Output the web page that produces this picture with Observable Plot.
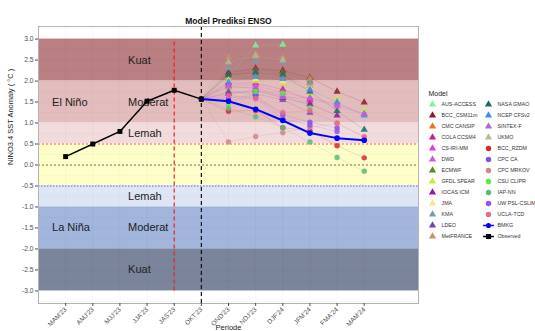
<!DOCTYPE html>
<html><head><meta charset="utf-8">
<script src="https://cdn.jsdelivr.net/npm/d3@7"></script>
<script src="https://cdn.jsdelivr.net/npm/@observablehq/plot@0.6"></script>
<style>body{margin:0;background:#fff;} #wrap{position:relative;width:535px;height:331px;overflow:hidden;}</style>
</head><body><div id="wrap"></div>
<script>
const periods = ["MAM'23","AMJ'23","MJJ'23","JJA'23","JAS'23","OKT'23","OND'23","NDJ'23","DJF'24","JFM'24","FMA'24","MAM'24"];
const observed = [0.2, 0.5, 0.8, 1.52, 1.78, 1.57];          // MAM'23 .. OKT'23
const bmkg = [1.57, 1.52, 1.33, 1.06, 0.76, 0.64, 0.59];      // OKT'23 .. MAM'24

const modelNames = ["AUS-ACCESS","BCC_CSM11m","CMC CANSIP","COLA CCSM4","CS-IRI-MM","DWD","ECMWF","GFDL SPEAR","IOCAS ICM","JMA","KMA","LDEO","MetFRANCE",
  "NASA GMAO","NCEP CFSv2","SINTEX-F","UKMO","BCC_RZDM","CPC CA","CPC MRKOV","CSU CLIPR","IAP-NN","UW PSL-CSLIM","UCLA-TCD"];
const modelShapes = ["triangle","triangle","triangle","triangle","triangle","triangle","triangle","triangle","triangle","triangle","triangle","triangle","triangle",
  "triangle","triangle","triangle","triangle","circle","circle","circle","circle","circle","circle","circle"];
const modelColors = ["#7ff29a","#8b1c2c","#e8761c","#cc1f8a","#dd3fd8","#cc5ccc","#5e8a23","#c4ec3c","#8e1a9c","#fce38a","#7a9ca8","#7245b5","#c0966a",
  "#1b6b63","#3a8ff0","#b764d6","#b7ba94","#e0242c","#7a52ef","#cf8888","#52ee44","#59bb7a","#9a4fe8","#ea6b8a"];
// forecasts for OND'23, NDJ'23, DJF'24, JFM'24, FMA'24, MAM'24
const forecasts = [
  [2.10, 2.85, 2.87, null, null, null],
  [2.20, 2.30, 2.25, 2.08, 1.75, 1.49],
  [2.05, 2.12, 2.10, 1.88, null, null],
  [1.95, 1.95, 1.80, 1.55, null, null],
  [1.90, 1.90, 1.72, 1.60, 1.45, 1.22],
  [1.85, 1.85, 1.65, 1.50, null, null],
  [2.12, 2.25, 2.20, 2.00, null, null],
  [1.80, 2.00, 1.95, 1.70, 1.58, 1.32],
  [1.70, 1.78, 1.60, 1.45, 1.18, null],
  [2.02, 2.05, 2.00, 1.85, null, null],
  [2.31, 2.47, 2.44, 1.95, null, null],
  [1.75, 1.70, 1.55, 1.25, null, null],
  [2.57, 2.65, 2.56, 2.06, null, null],
  [2.15, 2.20, 2.15, 1.75, 1.29, 0.84],
  [1.98, 2.10, 2.05, 1.80, 1.50, 1.18],
  [1.88, 1.82, 1.62, 1.60, 1.40, 1.22],
  [2.45, 2.60, 2.50, null, null, null],
  [1.28, 1.30, 0.89, 0.82, 0.46, 0.17],
  [1.60, 1.65, 1.20, 1.02, 0.88, null],
  [0.55, 0.68, 0.77, 0.90, 0.99, 0.67],
  [1.45, 1.75, 1.71, 1.36, null, null],
  [1.35, 1.15, 0.89, 0.55, 0.18, -0.15],
  [1.55, 1.60, 1.10, 0.95, 0.80, null],
  [1.65, 1.58, 1.25, 1.30, 1.00, 0.67]
];

const bandFrom = [2, 1, 0.5, -0.5, -1, -2, -3];
const bandTo   = [3, 2, 1, 0.5, -0.5, -1, -2];
const bandColors = ["#b97f83","#e3bcbe","#f1dbdc","#fefec8","#dee5f4","#a1b5dd","#7a849b"];
const levelText = ["Kuat","Moderat","Lemah","Lemah","Moderat","Kuat"];
const levelY = [2.5, 1.5, 0.75, -0.75, -1.5, -2.5];
const phaseText = ["El Niño","La Niña"];
const phaseY = [1.5, -1.5];
const yTicks = d3.range(-3, 3.01, 0.5);

const bands = bandFrom.map((lo, i) => ({lo, hi: bandTo[i], color: bandColors[i]}));
const fcRows = [], fcLines = [];
modelNames.forEach((name, m) => {
  fcLines.push({model: name, x: 6, y: observed[5], color: modelColors[m]});
  forecasts[m].forEach((v, j) => {
    if (v == null) return;
    const row = {model: name, x: 7 + j, y: v, color: modelColors[m], shape: modelShapes[m]};
    fcRows.push(row); fcLines.push(row);
  });
});
const obsRows = observed.map((v, i) => ({x: i + 1, y: v}));
const bmkgRows = bmkg.map((v, i) => ({x: i + 6, y: v}));
const font = "Liberation Sans, Arial, Helvetica, sans-serif";

const chart = Plot.plot({
  width: 535, height: 331,
  marginTop: 26, marginBottom: 28, marginLeft: 38, marginRight: 117,
  style: {fontFamily: font, background: "white", color: "#4d4d4d"},
  x: {domain: [0, 14]},
  y: {domain: [-3.3, 3.3]},
  marks: [
    Plot.rect(bands, {x1: 0, x2: 14, y1: "lo", y2: "hi", fill: "color"}),
    Plot.ruleY(d3.range(-3.25, 3.3, 0.25), {stroke: "#000", strokeOpacity: 0.05, strokeWidth: 0.5}),
    Plot.ruleX(d3.range(1, 13), {stroke: "#000", strokeOpacity: 0.06, strokeWidth: 0.5}),
    Plot.ruleY([0.5], {stroke: "#ff2020", strokeDasharray: "2,2", strokeWidth: 0.7}),
    Plot.ruleY([0], {stroke: "#333", strokeDasharray: "2,2", strokeWidth: 0.7}),
    Plot.ruleY([-0.5], {stroke: "#8c8cf5", strokeDasharray: "1.5,1.5", strokeWidth: 1.3}),
    Plot.text(levelText, {x: 3.3, y: (d, i) => levelY[i], text: d => d, textAnchor: "start", fontSize: 11, fill: "#222"}),
    Plot.text(phaseText, {x: 0.5, y: (d, i) => phaseY[i], text: d => d, textAnchor: "start", fontSize: 11, fill: "#222"}),
    Plot.ruleX([5], {y1: -3, y2: 3, stroke: "#ff1a1a", strokeDasharray: "4,3", strokeWidth: 1.2}),
    Plot.line(fcLines, {x: "x", y: "y", z: "model", stroke: "color", strokeWidth: 0.5, strokeOpacity: 0.35}),
    Plot.dot(fcRows, {x: "x", y: "y", fill: "color", symbol: "shape", r: 2.7, fillOpacity: 0.85}),
    Plot.line(bmkgRows, {x: "x", y: "y", stroke: "#0000ff", strokeWidth: 2}),
    Plot.dot(bmkgRows, {x: "x", y: "y", fill: "#0000ff", r: 2.8}),
    Plot.line(obsRows, {x: "x", y: "y", stroke: "#000", strokeWidth: 1.5}),
    Plot.dot(obsRows, {x: "x", y: "y", fill: "#000", symbol: "square", r: 2.8}),
    Plot.ruleX([6], {stroke: "#111", strokeDasharray: "4,3", strokeWidth: 1.2}),
    Plot.frame({stroke: "#b3b3b3"}),
    Plot.axisY({ticks: yTicks, tickFormat: d => d.toFixed(1), tickSize: 3, tickPadding: 2, fontSize: 6.7, label: null}),
    Plot.axisX({ticks: d3.range(1, 13), tickFormat: i => periods[i - 1], tickRotate: -45, tickSize: 3, tickPadding: 2, fontSize: 6.5, label: null}),
    Plot.text(["Model Prediksi ENSO"], {frameAnchor: "top", dy: -9, fontWeight: "bold", fontSize: 8.5, fill: "#111"}),
    Plot.text(["Periode"], {frameAnchor: "bottom", dy: 26, fontSize: 7.5, fill: "#222"}),
    Plot.text(["NINO3.4 SST Anomaly ( °C )"], {frameAnchor: "left", dx: -28, rotate: -90, fontSize: 7.5, fill: "#222"})
  ]
});
document.getElementById("wrap").appendChild(chart);

// Legend
const lineCircle = {draw(ctx, size) { const r = Math.sqrt(size / Math.PI); ctx.moveTo(-3 * r, 0); ctx.lineTo(3 * r, 0); ctx.moveTo(r, 0); ctx.arc(0, 0, r, 0, 2 * Math.PI); }};
const lineSquare = {draw(ctx, size) { const r = Math.sqrt(size / Math.PI); ctx.moveTo(-3 * r, 0); ctx.lineTo(3 * r, 0); ctx.rect(-r, -r, 2 * r, 2 * r); }};
const legendItems = modelNames.map((name, i) => ({name, shape: modelShapes[i], color: modelColors[i], col: i < 13 ? 0 : 1, row: i % 13}));
const extra = [{name: "BMKG", color: "#0000ff", sym: lineCircle, col: 1, row: 11}, {name: "Observed", color: "#000", sym: lineSquare, col: 1, row: 12}];
const legend = Plot.plot({
  width: 116, height: 170,
  marginTop: 22, marginBottom: 13, marginLeft: 13, marginRight: 47,
  style: {fontFamily: font, background: "transparent", color: "#333", position: "absolute", left: "419px", top: "80px", overflow: "visible"},
  x: {type: "point", domain: [0, 1], padding: 0, axis: null},
  y: {type: "point", domain: d3.range(13), padding: 0, axis: null},
  marks: [
    Plot.text(["Model"], {frameAnchor: "top-left", dx: -4, dy: -11, textAnchor: "start", fontSize: 7, fill: "#222"}),
    Plot.dot(legendItems, {x: "col", y: "row", fill: "color", symbol: "shape", r: 2.7}),
    Plot.dot(extra.slice(0, 1), {x: "col", y: "row", fill: "color", stroke: "color", strokeWidth: 1.5, symbol: lineCircle, r: 1.8}),
    Plot.dot(extra.slice(1), {x: "col", y: "row", fill: "color", stroke: "color", strokeWidth: 1.5, symbol: lineSquare, r: 1.8}),
    Plot.text(legendItems.concat(extra), {x: "col", y: "row", text: "name", dx: 9, textAnchor: "start", fontSize: 5.3, fill: "#333"})
  ]
});
document.getElementById("wrap").appendChild(legend);
</script></body></html>
